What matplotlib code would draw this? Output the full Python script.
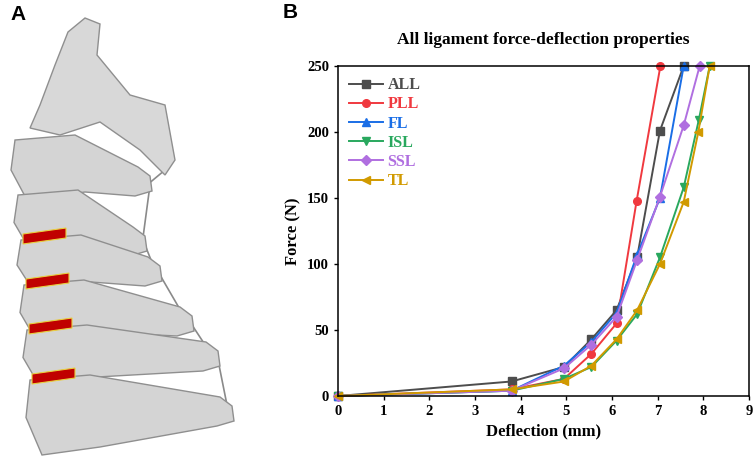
import matplotlib
matplotlib.use('Agg')
import matplotlib.pyplot as plt
from matplotlib.patches import Polygon

# force-deflection data per ligament (deflection mm, force N)
all_x = [0, 3.8, 4.95, 5.55, 6.1, 6.55, 7.05, 7.57]
all_y = [0, 11, 22, 43, 65, 105, 201, 250]
pll_x = [0, 3.8, 4.95, 5.55, 6.1, 6.54, 7.06]
pll_y = [0, 5, 13, 32, 55, 148, 250]
fl_x = [0, 3.8, 4.95, 5.55, 6.1, 6.55, 7.05, 7.57]
fl_y = [0, 4, 23, 41, 63, 107, 150, 250]
isl_x = [0, 3.8, 4.95, 5.55, 6.1, 6.55, 7.05, 7.57, 7.9, 8.14]
isl_y = [0, 4, 13, 22, 42, 62, 105, 158, 209, 250]
ssl_x = [0, 3.8, 4.95, 5.55, 6.1, 6.55, 7.05, 7.57, 7.92]
ssl_y = [0, 4, 21, 39, 60, 103, 151, 205, 250]
tl_x = [0, 3.8, 4.95, 5.55, 6.1, 6.55, 7.05, 7.57, 7.89, 8.14]
tl_y = [0, 5, 11, 23, 43, 65, 100, 147, 200, 250]

series = [
    ('ALL', all_x, all_y, '#4d4d4d', 's'),
    ('PLL', pll_x, pll_y, '#f0393f', 'o'),
    ('FL', fl_x, fl_y, '#1a6ee6', '^'),
    ('ISL', isl_x, isl_y, '#29a85e', 'v'),
    ('SSL', ssl_x, ssl_y, '#b06fe0', 'D'),
    ('TL', tl_x, tl_y, '#d19a00', '<'),
]

# rough outline of the spine model in panel A (pixel units): body top, body bottom, process tip
levels = [(140, 200, 150, 185), (195, 250, 145, 245), (240, 290, 160, 275),
          (285, 340, 192, 325), (330, 385, 218, 360), (380, 455, 232, 415)]

serif = 'Liberation Serif'
fig = plt.figure(figsize=(7.54, 4.63), dpi=100)

# ---- panel A: schematic spine ----
axa = fig.add_axes([0, 0, 280 / 754, 1])
axa.set_xlim(0, 280)
axa.set_ylim(463, 0)
axa.axis('off')
top = [(40, 105), (55, 65), (68, 32), (85, 18), (100, 24), (97, 55), (130, 95), (165, 105),
       (175, 160), (165, 175), (140, 150), (100, 122), (60, 135), (30, 128)]
axa.add_patch(Polygon(top, closed=True, fc='#d8d8d8', ec='#8f8f8f', lw=1))
prev_tip = (165, 170)
for i, (yt, yb, px, py) in enumerate(levels):
    x0 = 15 + 3 * i
    pts = [(x0, yt), (x0 + 60, yt - 5), (px - 12, py - 18), (px, py - 9), (px + 2, py + 6),
           (px - 15, py + 11), (x0 + 70, yb - 8), (x0 + 12, yb), (x0 - 4, (yt + yb) / 2)]
    axa.plot([prev_tip[0], px - 3], [prev_tip[1], py], color='#8a8a8a', lw=1.2, zorder=0)
    axa.add_patch(Polygon(pts, closed=True, fc='#d4d4d4', ec='#8f8f8f', lw=1))
    if i >= 2:
        axa.add_patch(Polygon([(x0 + 2, yt - 6), (x0 + 45, yt - 12), (x0 + 45, yt - 2), (x0 + 2, yt + 4)],
                              closed=True, fc='#c00000', ec='#e8d040', lw=0.8))
    prev_tip = (px, py)
fig.text(10 / 754, 1 - 15 / 463, 'A', fontsize=15, fontweight='bold', family='Liberation Sans',
         va='center', ha='left')

# ---- panel B: force-deflection curves ----
ax = fig.add_axes([338 / 754, 67 / 463, 411 / 754, 330 / 463])
for name, x, y, c, m in series:
    ax.plot(x, y, color=c, marker=m, markersize=5.5 if m != 'D' else 4.8, lw=1.4, label=name,
            clip_on=False)

ax.set_xlim(0, 9)
ax.set_ylim(0, 250)
ax.set_xticks(range(10))
ax.set_yticks(range(0, 251, 50))
ax.tick_params(direction='out', length=3, width=1, labelsize=10.5)
for lab in ax.get_xticklabels() + ax.get_yticklabels():
    lab.set_fontfamily(serif)
    lab.set_fontweight('bold')
for s in ax.spines.values():
    s.set_linewidth(1.1)
ax.set_title('All ligament force-deflection properties', family=serif, fontweight='bold',
             fontsize=12.5, pad=16)
ax.set_xlabel('Deflection (mm)', family=serif, fontweight='bold', fontsize=12)
ax.set_ylabel('Force (N)', family=serif, fontweight='bold', fontsize=12)
ax.legend(loc='upper left', frameon=False, handlelength=2.1, labelspacing=0.2,
          borderaxespad=0.3, handletextpad=0.3, labelcolor='linecolor',
          prop={'family': serif, 'weight': 'bold', 'size': 11.5})
fig.text(283 / 754, 1 - 12 / 463, 'B', fontsize=15, fontweight='bold', family='Liberation Sans',
         va='center', ha='left')

plt.savefig('out.png', dpi=100)
